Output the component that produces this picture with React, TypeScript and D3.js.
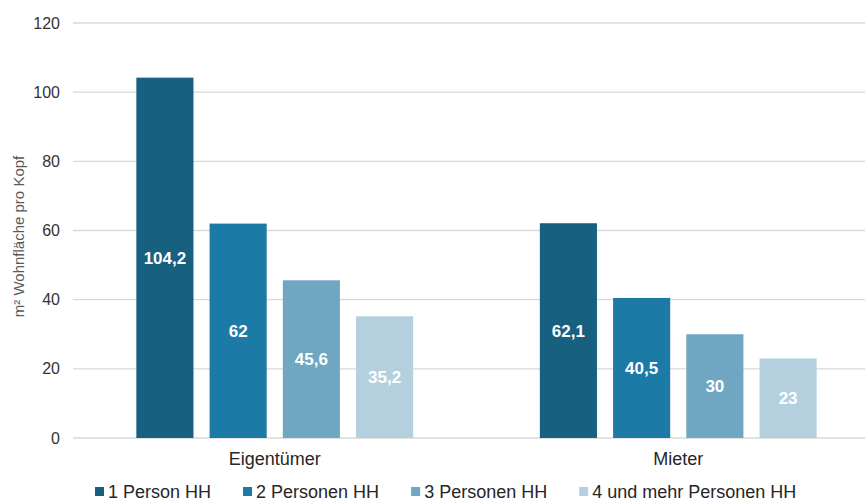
import { useEffect, useRef } from 'react';
import * as d3 from 'd3';

const categories = ['Eigentümer', 'Mieter'];
const seriesNames = ['1 Person HH', '2 Personen HH', '3 Personen HH', '4 und mehr Personen HH'];
const eigentuemer = [104.2, 62, 45.6, 35.2];
const mieter = [62.1, 40.5, 30, 23];
const yTicks = [0, 20, 40, 60, 80, 100, 120];
const colors = ['#17607f', '#1c7aa6', '#6fa7c2', '#b4d0df'];

const App = () => {
  const svgRef = useRef<SVGSVGElement>(null);

  useEffect(() => {
    const width = 865;
    const height = 504;
    const margin = { top: 23, right: -15, bottom: 66, left: 73 };
    const font = '"Liberation Sans", Arial, sans-serif';

    const rows = categories.map((c, i) => ({
      category: c,
      values: i === 0 ? eigentuemer : mieter,
    }));

    const svg = d3.select(svgRef.current).attr('width', width).attr('height', height);
    svg.selectAll('*').remove();

    const x0 = d3
      .scaleBand()
      .domain(categories)
      .range([margin.left, width - margin.right])
      .padding(0);

    const groupPad = x0.bandwidth() * 0.157;
    const x1 = d3
      .scaleBand()
      .domain(seriesNames)
      .range([groupPad, x0.bandwidth() - groupPad])
      .paddingInner(0.22)
      .paddingOuter(0);

    const y = d3
      .scaleLinear()
      .domain([0, 120])
      .range([height - margin.bottom, margin.top]);

    // gridlines
    svg
      .append('g')
      .selectAll('line')
      .data(yTicks)
      .join('line')
      .attr('x1', margin.left)
      .attr('x2', width)
      .attr('y1', (d) => y(d))
      .attr('y2', (d) => y(d))
      .attr('stroke', '#d9d9d9')
      .attr('stroke-width', 1.3);

    // y tick labels
    svg
      .append('g')
      .selectAll('text')
      .data(yTicks)
      .join('text')
      .attr('x', 60)
      .attr('y', (d) => y(d))
      .attr('dy', '0.35em')
      .attr('text-anchor', 'end')
      .attr('font-family', font)
      .attr('font-size', 16)
      .attr('fill', '#333333')
      .text((d) => d);

    // y axis title
    svg
      .append('text')
      .attr('transform', `translate(19,${(y(0) + y(120)) / 2 + 6}) rotate(-90)`)
      .attr('dy', '0.35em')
      .attr('text-anchor', 'middle')
      .attr('font-family', font)
      .attr('font-size', 15)
      .attr('fill', '#595959')
      .text('m² Wohnfläche pro Kopf');

    const groups = svg
      .append('g')
      .selectAll('g')
      .data(rows)
      .join('g')
      .attr('transform', (d) => `translate(${x0(d.category)},0)`);

    groups
      .selectAll('rect')
      .data((d) => d.values.map((v, i) => ({ key: seriesNames[i], value: v, i })))
      .join('rect')
      .attr('x', (d) => x1(d.key)!)
      .attr('width', x1.bandwidth())
      .attr('y', (d) => y(d.value))
      .attr('height', (d) => y(0) - y(d.value))
      .attr('fill', (d) => colors[d.i]);

    groups
      .selectAll('text')
      .data((d) => d.values.map((v, i) => ({ key: seriesNames[i], value: v })))
      .join('text')
      .attr('x', (d) => x1(d.key)! + x1.bandwidth() / 2)
      .attr('y', (d) => (y(d.value) + y(0)) / 2)
      .attr('dy', '0.35em')
      .attr('text-anchor', 'middle')
      .attr('font-family', font)
      .attr('font-size', 17)
      .attr('font-weight', 'bold')
      .attr('fill', '#ffffff')
      .text((d) => String(d.value).replace('.', ','));

    // category labels
    svg
      .append('g')
      .selectAll('text')
      .data(categories)
      .join('text')
      .attr('x', (d) => x0(d)! + x0.bandwidth() / 2)
      .attr('y', 459)
      .attr('dy', '0.35em')
      .attr('text-anchor', 'middle')
      .attr('font-family', font)
      .attr('font-size', 18)
      .attr('fill', '#262626')
      .text((d) => d);

    // legend
    const legend = svg.append('g').attr('transform', 'translate(95,492)');
    let lx = 0;
    seriesNames.forEach((name, i) => {
      const item = legend.append('g').attr('transform', `translate(${lx},0)`);
      item
        .append('rect')
        .attr('x', 0)
        .attr('y', -5)
        .attr('width', 9)
        .attr('height', 9)
        .attr('fill', colors[i]);
      const t = item
        .append('text')
        .attr('x', 13)
        .attr('y', 0)
        .attr('dy', '0.35em')
        .attr('font-family', font)
        .attr('font-size', 18)
        .attr('fill', '#262626')
        .text(name);
      const w = (t.node() as SVGTextElement).getComputedTextLength();
      lx += 13 + w + 32;
    });
  }, []);

  return (
    <div style={{ position: 'absolute', left: 0, top: 0 }}>
      <svg ref={svgRef}></svg>
    </div>
  );
};

export default App;
